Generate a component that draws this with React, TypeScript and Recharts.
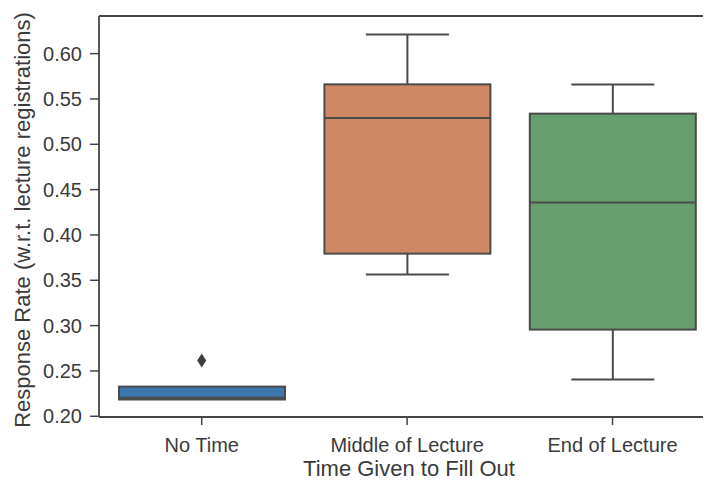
import React from "react";
import { ComposedChart, Bar, Scatter, XAxis, YAxis, ReferenceLine } from "recharts";

const categories = ["No Time", "Middle of Lecture", "End of Lecture"];
const whiskerLow = [0.2185, 0.3563, 0.2405];
const quartile1 = [0.2185, 0.3794, 0.2956];
const medians = [0.2205, 0.529, 0.4357];
const quartile3 = [0.2327, 0.5661, 0.5338];
const whiskerHigh = [0.2327, 0.621, 0.566];
const outlierValues = [[0.2615], [], []];
const yTicks = [0.2, 0.25, 0.3, 0.35, 0.4, 0.45, 0.5, 0.55, 0.6];

const X_DOMAIN: [number, number] = [-0.5, 2.46];
const Y_DOMAIN: [number, number] = [0.1992, 0.6415];

const COLORS = ["#3c76af", "#ce8864", "#679e6e"];
const LINE = "#4a4a4a";
const TEXT = "#3a3a3a";
const FONT = "'Liberation Sans', Arial, sans-serif";

const boxData = categories.map((name, i) => ({
  x: i,
  name,
  lo: whiskerLow[i],
  q1: quartile1[i],
  med: medians[i],
  q3: quartile3[i],
  hi: whiskerHigh[i],
  fill: COLORS[i],
}));

const outlierData = outlierValues.flatMap((vals, i) =>
  vals.map((v) => ({ x: i, y: v }))
);

// draws a whole box (whiskers, box, median) inside the lo..hi range bar
const BoxShape = (props: any) => {
  const { x, y, width, height, payload } = props;
  if (x == null || y == null) return null;
  const { lo, q1, med, q3, hi, fill } = payload;
  const span = hi - lo;
  const toY = (v: number) => y + ((hi - v) / span) * height;
  const cx = x + width / 2;
  const capHalf = width / 4;
  return (
    <g>
      {hi > q3 && (
        <>
          <line x1={cx} x2={cx} y1={toY(hi)} y2={toY(q3)} stroke={LINE} strokeWidth={2} />
          <line x1={cx - capHalf} x2={cx + capHalf} y1={toY(hi)} y2={toY(hi)} stroke={LINE} strokeWidth={2} />
        </>
      )}
      {lo < q1 && (
        <>
          <line x1={cx} x2={cx} y1={toY(q1)} y2={toY(lo)} stroke={LINE} strokeWidth={2} />
          <line x1={cx - capHalf} x2={cx + capHalf} y1={toY(lo)} y2={toY(lo)} stroke={LINE} strokeWidth={2} />
        </>
      )}
      <rect
        x={x}
        y={toY(q3)}
        width={width}
        height={toY(q1) - toY(q3)}
        fill={fill}
        stroke={LINE}
        strokeWidth={2}
      />
      <line x1={x} x2={x + width} y1={toY(med)} y2={toY(med)} stroke={LINE} strokeWidth={2} />
    </g>
  );
};

const Diamond = (props: any) => {
  const { cx, cy } = props;
  if (cx == null || cy == null) return null;
  return (
    <path
      d={`M${cx},${cy - 7} L${cx + 4.5},${cy} L${cx},${cy + 7} L${cx - 4.5},${cy} Z`}
      fill="#3d3d3d"
    />
  );
};

export default function App() {
  return (
    <div style={{ marginLeft: -8, marginTop: -8, background: "#fff", width: 711, height: 480 }}>
      <ComposedChart
        width={711}
        height={480}
        data={boxData}
        margin={{ top: 16, right: 4, bottom: 0, left: 0 }}
        style={{ fontFamily: FONT }}
      >
        <XAxis
          xAxisId="main"
          type="number"
          dataKey="x"
          domain={X_DOMAIN}
          ticks={[0, 1, 2]}
          tickFormatter={(v: number) => categories[v] ?? ""}
          height={63}
          allowDataOverflow
          axisLine={{ stroke: "#444", strokeWidth: 1.8 }}
          tickLine={{ stroke: "#444", strokeWidth: 1.5 }}
          tickSize={8}
          tickMargin={13}
          tick={{ fill: TEXT, fontSize: 20 }}
          label={() => (
            <text
              x={409}
              y={468}
              textAnchor="middle"
              dominantBaseline="central"
              fill={TEXT}
              fontSize={22}
            >
              Time Given to Fill Out
            </text>
          )}
        />
        <YAxis
          yAxisId="main"
          type="number"
          domain={Y_DOMAIN}
          ticks={yTicks}
          allowDataOverflow
          width={99}
          tickFormatter={(v: number) => v.toFixed(2)}
          axisLine={{ stroke: "#444", strokeWidth: 1.8 }}
          tickLine={{ stroke: "#444", strokeWidth: 1.5 }}
          tickSize={9}
          tickMargin={8}
          tick={{ fill: TEXT, fontSize: 20 }}
          label={() => (
            <text
              x={22}
              y={220}
              transform="rotate(-90 22 220)"
              textAnchor="middle"
              dominantBaseline="central"
              fill={TEXT}
              fontSize={22}
            >
              Response Rate (w.r.t. lecture registrations)
            </text>
          )}
        />
        {/* frame: top and right edges */}
        <ReferenceLine
          xAxisId="main"
          yAxisId="main"
          y={Y_DOMAIN[1]}
          stroke="#444"
          strokeWidth={1.8}
          ifOverflow="visible"
        />
        <ReferenceLine
          xAxisId="main"
          yAxisId="main"
          x={X_DOMAIN[1]}
          stroke="#c8c8c8"
          strokeWidth={1}
          ifOverflow="visible"
        />
        <Bar
          xAxisId="main"
          yAxisId="main"
          dataKey={(d: any) => [d.lo, d.hi]}
          barSize={166}
          shape={<BoxShape />}
          isAnimationActive={false}
        />
        <Scatter
          xAxisId="main"
          yAxisId="main"
          data={outlierData}
          dataKey="y"
          shape={<Diamond />}
          isAnimationActive={false}
        />
      </ComposedChart>
    </div>
  );
}
